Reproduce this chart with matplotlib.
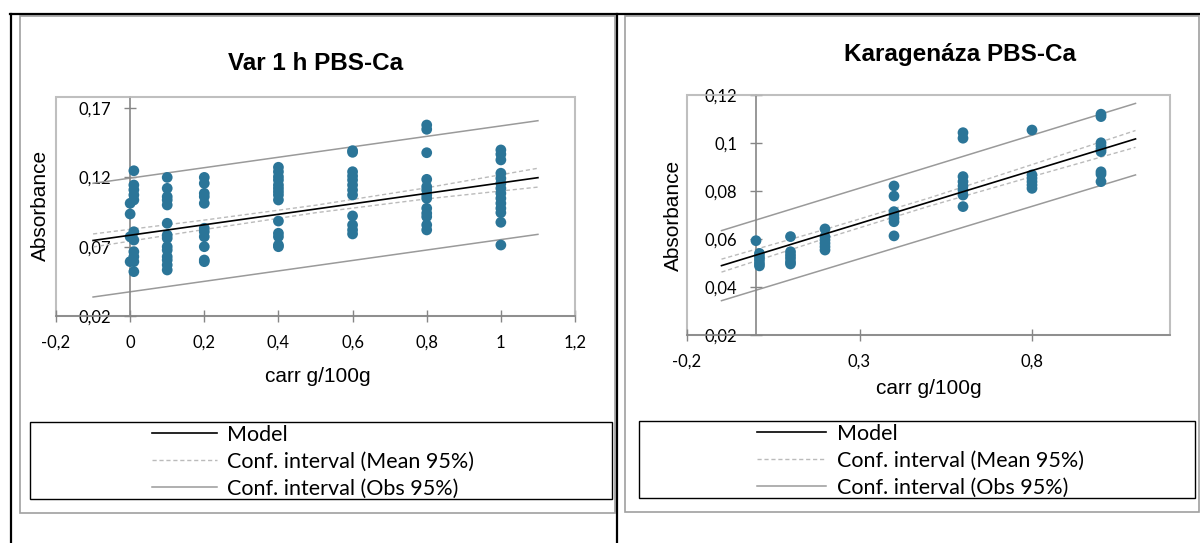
import matplotlib
matplotlib.use('Agg')
import matplotlib.pyplot as plt
from matplotlib.patches import Rectangle
from matplotlib.lines import Line2D

plt.rcParams['font.family'] = ['Lato', 'DejaVu Sans']

W, H = 1200, 543
DOT = '#2B7598'
AXIS_GRAY = '#868686'
BOX_GRAY = '#BFBFBF'

# ---- Var 1 h PBS-Ca (left chart) ----
var_x = [0, 0, 0, 0,
         0.01, 0.01, 0.01, 0.01, 0.01, 0.01, 0.01, 0.01, 0.01, 0.01, 0.01,
         0.1, 0.1, 0.1, 0.1, 0.1, 0.1, 0.1, 0.1, 0.1, 0.1, 0.1, 0.1, 0.1, 0.1,
         0.2, 0.2, 0.2, 0.2, 0.2, 0.2, 0.2, 0.2, 0.2, 0.2, 0.2,
         0.4, 0.4, 0.4, 0.4, 0.4, 0.4, 0.4, 0.4, 0.4, 0.4, 0.4, 0.4, 0.4, 0.4,
         0.6, 0.6, 0.6, 0.6, 0.6, 0.6, 0.6, 0.6, 0.6, 0.6, 0.6, 0.6,
         0.8, 0.8, 0.8, 0.8, 0.8, 0.8, 0.8, 0.8, 0.8, 0.8, 0.8, 0.8, 0.8,
         1.0, 1.0, 1.0, 1.0, 1.0, 1.0, 1.0, 1.0, 1.0, 1.0, 1.0, 1.0, 1.0, 1.0]
var_y = [0.1013, 0.0936, 0.0772, 0.0592,
         0.1248, 0.1145, 0.1110, 0.1073, 0.1037, 0.0808, 0.0748, 0.0664, 0.0628, 0.0592, 0.0520,
         0.1200, 0.1121, 0.1061, 0.1037, 0.1001, 0.0869, 0.0784, 0.0761, 0.0700, 0.0676, 0.0628, 0.0604, 0.0568, 0.0532,
         0.1200, 0.1157, 0.1085, 0.1061, 0.1013, 0.0833, 0.0808, 0.0772, 0.0700, 0.0604, 0.0592,
         0.1273, 0.1241, 0.1205, 0.1181, 0.1145, 0.1121, 0.1097, 0.1073, 0.1037, 0.0885, 0.0797, 0.0772, 0.0712, 0.0700,
         0.1393, 0.1381, 0.1241, 0.1210, 0.1181, 0.1145, 0.1109, 0.1073, 0.0922, 0.0857, 0.0821, 0.0792,
         0.1578, 0.1547, 0.1378, 0.1186, 0.1133, 0.1109, 0.1073, 0.1049, 0.0977, 0.0941, 0.0916, 0.0857, 0.0821,
         0.1398, 0.1367, 0.1326, 0.1230, 0.1193, 0.1157, 0.1121, 0.1085, 0.1049, 0.1013, 0.0977, 0.0945, 0.0876, 0.0712]
var_ends = [-0.1, 1.1]
var_model = [0.0745, 0.1198]
var_obs_up = [0.1157, 0.1609]
var_obs_lo = [0.0337, 0.0789]
var_ci_x = [-0.1, 0.2, 0.5, 0.8, 1.1]
var_mean_up = [0.0792, 0.0892, 0.0999, 0.1125, 0.1266]
var_mean_lo = [0.0698, 0.0824, 0.0945, 0.1045, 0.1130]
var_xticks = [-0.2, 0, 0.2, 0.4, 0.6, 0.8, 1.0, 1.2]
var_xlabels = ['-0,2', '0', '0,2', '0,4', '0,6', '0,8', '1', '1,2']
var_yticks = [0.02, 0.07, 0.12, 0.17]
var_ylabels = ['0,02', '0,07', '0,12', '0,17']

# ---- Karagenáza PBS-Ca (right chart) ----
kar_x = [0, 0.01, 0.01, 0.01, 0.01, 0.01,
         0.1, 0.1, 0.1, 0.1, 0.1, 0.1,
         0.2, 0.2, 0.2, 0.2, 0.2, 0.2,
         0.4, 0.4, 0.4, 0.4, 0.4, 0.4, 0.4,
         0.6, 0.6, 0.6, 0.6, 0.6, 0.6, 0.6, 0.6,
         0.8, 0.8, 0.8, 0.8, 0.8, 0.8,
         1.0, 1.0, 1.0, 1.0, 1.0, 1.0, 1.0, 1.0, 1.0]
kar_y = [0.0593, 0.0540, 0.0526, 0.0513, 0.0499, 0.0488,
         0.0610, 0.0547, 0.0533, 0.0520, 0.0505, 0.0496,
         0.0642, 0.0610, 0.0596, 0.0582, 0.0568, 0.0554,
         0.0821, 0.0779, 0.0714, 0.0700, 0.0686, 0.0672, 0.0613,
         0.1043, 0.1020, 0.0860, 0.0839, 0.0821, 0.0804, 0.0783, 0.0735,
         0.1054, 0.0867, 0.0853, 0.0839, 0.0825, 0.0811,
         0.1120, 0.1110, 0.1001, 0.0988, 0.0974, 0.0964, 0.0880, 0.0870, 0.0839]
kar_ends = [-0.1, 1.1]
kar_model = [0.0489, 0.1017]
kar_obs_up = [0.0635, 0.1165]
kar_obs_lo = [0.0343, 0.0867]
kar_ci_x = [-0.1, 0.2, 0.5, 0.8, 1.1]
kar_mean_up = [0.0516, 0.0640, 0.0770, 0.0910, 0.1052]
kar_mean_lo = [0.0462, 0.0602, 0.0736, 0.0860, 0.0982]
kar_xticks = [-0.2, 0.3, 0.8]
kar_xlabels = ['-0,2', '0,3', '0,8']
kar_yticks = [0.02, 0.04, 0.06, 0.08, 0.10, 0.12]
kar_ylabels = ['0,02', '0,04', '0,06', '0,08', '0,1', '0,12']

legend_labels = ['Model', 'Conf. interval (Mean 95%)', 'Conf. interval (Obs 95%)']

fig = plt.figure(figsize=(12, 5.43), dpi=100)


def fx(px):
    return px / W


def fy(py):
    return 1 - py / H


def rect_px(x0, y0, x1, y1, **kw):
    fig.add_artist(Rectangle((fx(x0), fy(y1)), fx(x1) - fx(x0), fy(y0) - fy(y1),
                             transform=fig.transFigure, fill=False, **kw))


# table lines and chart frames
fig.add_artist(Line2D([fx(10), fx(1200)], [fy(14), fy(14)], color='black', lw=1.6))
fig.add_artist(Line2D([fx(11), fx(11)], [fy(14), fy(543)], color='black', lw=1.6))
fig.add_artist(Line2D([fx(617), fx(617)], [fy(14), fy(543)], color='black', lw=1.6))
rect_px(20, 16, 615, 513, ec='#A0A0A0', lw=1.2)
rect_px(625, 16, 1199, 512, ec='#A0A0A0', lw=1.2)


def draw_chart(ax, xs, ys, ends, model, obs_up, obs_lo, ci_x, mean_up, mean_lo,
               xlim, ylim, xticks, xlabels, yticks, ylabels):
    ax.plot(ends, obs_up, color='#9A9A9A', lw=1.1, label=legend_labels[2], zorder=2)
    ax.plot(ends, obs_lo, color='#9A9A9A', lw=1.1, zorder=2)
    ax.plot(ci_x, mean_up, color='#BBBBBB', lw=1.0, ls=(0, (3, 2)), label=legend_labels[1], zorder=2)
    ax.plot(ci_x, mean_lo, color='#BBBBBB', lw=1.0, ls=(0, (3, 2)), zorder=2)
    ax.scatter(xs, ys, s=60, color=DOT, edgecolors='none', zorder=3, clip_on=False)
    ax.plot(ends, model, color='black', lw=1.2, label=legend_labels[0], zorder=4)

    ax.set_xlim(xlim)
    ax.set_ylim(ylim)
    ax.set_xticks(xticks)
    ax.set_xticklabels(xlabels)
    ax.set_yticks(yticks)
    ax.set_yticklabels(ylabels)

    ax.spines['left'].set_position(('data', 0))
    ax.spines['left'].set_color(AXIS_GRAY)
    ax.spines['bottom'].set_color(AXIS_GRAY)
    ax.spines['top'].set_color(BOX_GRAY)
    ax.spines['right'].set_color(BOX_GRAY)
    for s in ['top', 'right', 'left', 'bottom']:
        ax.spines[s].set_linewidth(1.2)
    ax.add_patch(Rectangle((0, 0), 1, 1, transform=ax.transAxes, fill=False,
                           ec=BOX_GRAY, lw=1.5, zorder=0, clip_on=False))
    ax.tick_params(direction='inout', length=9, width=1, color=AXIS_GRAY,
                   labelsize=12, labelcolor='black')
    ax.tick_params(axis='y', pad=9)
    ax.tick_params(axis='x', pad=9)


# left chart
ax1 = fig.add_axes([fx(56), fy(316), fx(575) - fx(56), fy(97) - fy(316)])
draw_chart(ax1, var_x, var_y, var_ends, var_model, var_obs_up, var_obs_lo,
           var_ci_x, var_mean_up, var_mean_lo, (-0.2, 1.2), (0.02, 0.178),
           var_xticks, var_xlabels, var_yticks, var_ylabels)

# right chart
ax2 = fig.add_axes([fx(687), fy(335), fx(1170) - fx(687), fy(95) - fy(335)])
draw_chart(ax2, kar_x, kar_y, kar_ends, kar_model, kar_obs_up, kar_obs_lo,
           kar_ci_x, kar_mean_up, kar_mean_lo, (-0.2, 1.2), (0.02, 0.12),
           kar_xticks, kar_xlabels, kar_yticks, kar_ylabels)

# titles and axis titles
arial = ['Liberation Sans', 'DejaVu Sans']
fig.text(fx(316), fy(63), 'Var 1 h PBS-Ca', ha='center', va='center',
         fontsize=17.5, fontweight='bold', family=arial)
fig.text(fx(960), fy(55), 'Karagenáza PBS-Ca', ha='center', va='center',
         fontsize=17.5, fontweight='bold', family=arial)
fig.text(fx(40), fy(205), 'Absorbance', rotation=90, ha='center', va='center',
         fontsize=15, family=arial)
fig.text(fx(673), fy(215), 'Absorbance', rotation=90, ha='center', va='center',
         fontsize=15, family=arial)
fig.text(fx(318), fy(376), 'carr g/100g', ha='center', va='center',
         fontsize=15, family=arial)
fig.text(fx(929), fy(389), 'carr g/100g', ha='center', va='center',
         fontsize=15, family=arial)

# legends
for ax, box, anchor, hlen in [(ax1, (30, 422, 612, 499), (152, 425), 3.0),
                              (ax2, (639, 421, 1195, 498), (757, 424), 3.2)]:
    rect_px(*box, ec='black', lw=1.0)
    handles, labels = ax.get_legend_handles_labels()
    order = [labels.index(l) for l in legend_labels]
    fig.legend([handles[i] for i in order], [labels[i] for i in order],
               loc='upper left', bbox_to_anchor=(fx(anchor[0]), fy(anchor[1])),
               frameon=False, fontsize=15.5, handlelength=hlen, handletextpad=0.5,
               labelspacing=0.32, borderpad=0, borderaxespad=0)

fig.savefig('out.png', dpi=100)
